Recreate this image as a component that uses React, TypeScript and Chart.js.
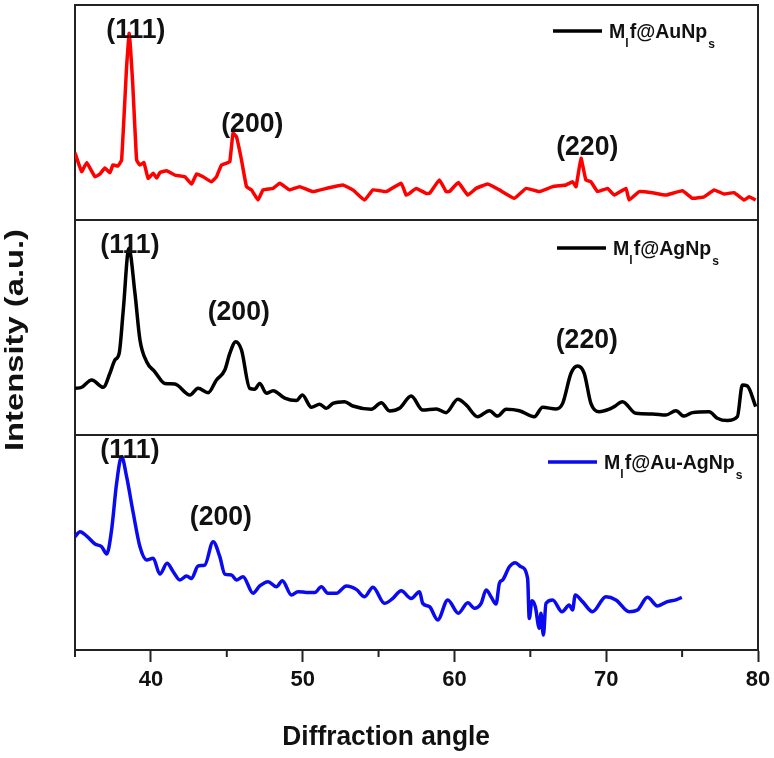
import React, { useEffect, useRef } from 'react';
import { Chart, registerables } from 'chart.js';

Chart.register(...registerables);

// ---- Data ----
// Top panel: Mlf@AuNps (red)
const auAngle = [35.0, 35.44, 35.77, 36.32, 36.64, 36.97, 37.3, 37.5, 37.83, 38.07, 38.4, 38.57, 38.8, 39.06, 39.28, 39.54, 39.82, 40.15, 40.38, 40.59, 41.03, 41.58, 42.24, 42.68, 43.01, 43.44, 43.99, 44.32, 44.65, 44.98, 45.2, 45.41, 45.64, 45.97, 46.3, 46.63, 47.06, 47.39, 48.05, 48.49, 49.14, 49.8, 50.68, 51.56, 52.65, 53.31, 54.08, 54.63, 55.51, 56.49, 56.82, 57.04, 57.48, 58.13, 58.36, 59.01, 59.45, 59.67, 60.26, 60.88, 61.43, 62.19, 62.96, 63.95, 64.72, 65.59, 66.47, 67.35, 67.78, 68.01, 68.34, 68.66, 68.99, 69.43, 70.09, 70.53, 71.3, 71.51, 72.17, 73.05, 73.93, 75.02, 75.68, 76.45, 77.11, 77.76, 78.42, 79.08, 79.41, 79.85];
const auIntensity = [31.2, 22.5, 26.7, 20.1, 21.4, 24.2, 22.0, 25.6, 25.1, 27.9, 71.3, 86.8, 63.7, 27.9, 25.6, 26.7, 19.4, 21.7, 19.5, 22.0, 22.9, 20.9, 20.1, 16.7, 21.4, 20.1, 17.8, 20.1, 25.6, 26.4, 27.1, 40.3, 38.7, 27.9, 15.5, 14.0, 9.3, 14.0, 14.7, 17.1, 14.0, 15.5, 13.2, 14.7, 16.3, 14.0, 9.3, 14.0, 13.2, 17.1, 11.6, 12.4, 14.7, 12.4, 12.4, 18.6, 13.2, 13.2, 17.4, 11.6, 14.7, 16.7, 14.0, 10.1, 14.7, 13.2, 15.5, 16.3, 17.8, 15.5, 28.7, 18.6, 17.8, 13.2, 14.7, 11.6, 14.7, 9.3, 13.2, 12.7, 11.6, 13.6, 10.1, 10.8, 14.0, 12.1, 12.7, 9.3, 10.8, 9.3];

// Middle panel: Mlf@AgNps (black)
const agAngle = [35.0, 35.44, 36.1, 36.86, 37.3, 37.63, 37.91, 38.18, 38.55, 38.95, 39.28, 39.72, 40.26, 40.92, 41.58, 42.57, 43.11, 43.77, 44.32, 44.87, 45.2, 45.59, 45.97, 46.51, 46.84, 47.17, 47.61, 48.05, 48.82, 49.59, 49.98, 50.57, 51.12, 51.56, 51.99, 52.76, 53.31, 54.52, 55.18, 55.72, 56.38, 57.15, 57.91, 58.8, 59.45, 60.22, 60.77, 61.53, 62.3, 62.85, 63.4, 64.28, 65.26, 65.81, 66.69, 67.13, 67.68, 68.11, 68.55, 68.99, 69.54, 70.2, 70.53, 71.07, 71.95, 73.05, 73.93, 74.59, 75.13, 75.68, 76.78, 77.32, 77.98, 78.64, 78.97, 79.3, 79.85];
const agIntensity = [21.7, 22.2, 25.6, 22.2, 28.7, 34.9, 38.0, 58.1, 86.8, 65.9, 44.2, 34.1, 29.4, 24.0, 23.7, 18.6, 21.7, 19.7, 25.6, 30.2, 38.0, 43.4, 39.5, 21.7, 21.3, 24.0, 19.4, 20.6, 17.1, 16.0, 18.6, 12.9, 14.3, 12.4, 14.7, 15.5, 13.5, 12.0, 15.0, 11.2, 12.4, 18.1, 11.6, 12.1, 10.4, 16.6, 14.0, 8.5, 11.3, 8.8, 12.0, 11.3, 8.5, 12.9, 12.1, 14.7, 28.7, 32.1, 28.7, 14.7, 10.8, 12.0, 13.2, 15.5, 10.1, 9.8, 9.3, 11.3, 8.8, 10.4, 10.8, 7.8, 6.7, 8.5, 23.3, 22.8, 13.2];

// Bottom panel: Mlf@Au-AgNps (blue)
const auagAngle = [35.0, 35.33, 35.77, 36.32, 36.76, 37.09, 37.41, 37.74, 38.07, 38.4, 38.84, 39.28, 39.72, 40.15, 40.59, 41.07, 41.47, 41.91, 42.35, 42.68, 43.11, 43.55, 44.1, 44.54, 44.87, 45.31, 45.64, 46.07, 46.73, 47.17, 47.72, 48.27, 48.66, 49.26, 49.69, 50.24, 50.79, 51.23, 51.66, 52.22, 52.88, 53.53, 54.08, 54.63, 55.39, 55.94, 56.49, 57.15, 57.7, 57.91, 58.36, 58.9, 59.56, 60.26, 60.88, 61.32, 61.76, 62.09, 62.41, 62.74, 62.96, 63.18, 63.62, 64.01, 64.39, 64.82, 64.93, 65.11, 65.33, 65.59, 65.7, 65.86, 66.03, 66.47, 67.09, 67.57, 67.78, 67.96, 68.44, 69.1, 69.98, 70.64, 71.51, 72.06, 72.72, 73.38, 74.03, 74.59, 74.98];
const auagIntensity = [52.7, 55.0, 53.0, 49.3, 48.0, 44.7, 55.8, 77.5, 89.9, 80.6, 63.6, 48.0, 41.9, 42.7, 35.3, 40.3, 36.4, 32.6, 34.4, 33.3, 39.1, 39.5, 50.4, 43.4, 35.3, 34.9, 32.6, 34.1, 26.4, 29.8, 31.8, 29.4, 32.2, 25.6, 27.1, 26.8, 26.7, 29.4, 26.4, 26.4, 29.8, 28.2, 24.8, 29.2, 21.7, 24.0, 27.6, 24.0, 27.1, 21.7, 20.1, 14.0, 23.3, 17.1, 22.0, 19.4, 21.7, 27.9, 24.8, 21.4, 31.0, 32.6, 38.7, 40.6, 38.7, 33.3, 14.7, 22.9, 20.1, 10.1, 17.1, 7.0, 21.7, 23.3, 17.8, 20.9, 18.6, 25.6, 22.5, 17.8, 24.8, 23.3, 17.8, 18.6, 24.5, 20.5, 22.5, 23.3, 24.5];

// Series names (legend), panel axes and colours
const seriesNames = ['Au', 'Ag', 'Au-Ag'];
const seriesAxes = ['yTop', 'yMid', 'yBot'];
const seriesColors = ['#ff0000', '#000000', '#0a0af0'];
const legendLineColors = ['#000000', '#000000', '#0a0af0'];

// Peak annotations (Miller indices)
const peakText = ['(111)', '(200)', '(220)', '(111)', '(200)', '(220)', '(111)', '(200)'];
const peakAxis = ['yTop', 'yTop', 'yTop', 'yMid', 'yMid', 'yMid', 'yBot', 'yBot'];
const peakAngle = [39.01, 46.68, 68.75, 38.62, 45.79, 68.72, 38.62, 44.61];
const peakLevel = [88.4, 44.7, 34.0, 88.4, 57.2, 44.2, 93.0, 61.9];

const xTitle = 'Diffraction angle';
const yTitle = 'Intensity (a.u.)';

const FONT = "'Liberation Sans', Arial, Helvetica, sans-serif";

function toPoints(xs: number[], ys: number[]) {
  return xs.map((x, i) => ({ x, y: ys[i] }));
}

// draw text with a horizontal squeeze; returns advance width
function squeezedText(ctx: any, text: string, x: number, y: number, sx: number) {
  ctx.save();
  ctx.translate(x, y);
  ctx.scale(sx, 1);
  ctx.fillText(text, 0, 0);
  ctx.restore();
  return ctx.measureText(text).width * sx;
}

const decorPlugin = {
  id: 'decor',
  beforeDatasetsDraw(chart: any) {
    const { ctx, chartArea } = chart;
    ctx.save();
    ctx.strokeStyle = '#222';
    ctx.lineWidth = 2;
    seriesAxes.forEach((id) => {
      const s = chart.scales[id];
      ctx.strokeRect(chartArea.left, s.top, chartArea.right - chartArea.left, s.bottom - s.top);
    });
    // minor tick marks on the x axis
    const xs = chart.scales.x;
    xs.ticks.forEach((t: any) => {
      if (t.value % 10 !== 0) {
        const px = xs.getPixelForValue(t.value);
        ctx.beginPath();
        ctx.moveTo(px, chartArea.bottom);
        ctx.lineTo(px, chartArea.bottom + 7);
        ctx.stroke();
      }
    });
    ctx.restore();
  },
  afterDatasetsDraw(chart: any) {
    const { ctx, chartArea } = chart;
    const xs = chart.scales.x;
    ctx.save();
    // peak labels
    ctx.fillStyle = '#111';
    ctx.font = `bold 28px ${FONT}`;
    ctx.textAlign = 'center';
    ctx.textBaseline = 'middle';
    peakText.forEach((t, i) => {
      const ys = chart.scales[peakAxis[i]];
      ctx.save();
      ctx.translate(xs.getPixelForValue(peakAngle[i]), ys.getPixelForValue(peakLevel[i]));
      ctx.scale(0.95, 1);
      ctx.fillText(t, 0, 0);
      ctx.restore();
    });
    // legends
    const legendOffsetX = [205, 201, 210];
    const legendOffsetY = [26, 28, 27];
    seriesAxes.forEach((id, i) => {
      const s = chart.scales[id];
      const x0 = chartArea.right - legendOffsetX[i];
      const y0 = s.top + legendOffsetY[i];
      ctx.strokeStyle = legendLineColors[i];
      ctx.lineWidth = 3.5;
      ctx.beginPath();
      ctx.moveTo(x0, y0);
      ctx.lineTo(x0 + 49, y0);
      ctx.stroke();
      ctx.fillStyle = '#111';
      ctx.textAlign = 'left';
      ctx.textBaseline = 'alphabetic';
      const sx = 0.93;
      let x = x0 + 56;
      const base = y0 + 7;
      ctx.font = `bold 21px ${FONT}`;
      x += squeezedText(ctx, 'M', x, base, sx);
      ctx.font = `bold 13px ${FONT}`;
      x += squeezedText(ctx, 'l', x, base + 9, sx) + 1;
      ctx.font = `bold 21px ${FONT}`;
      x += squeezedText(ctx, 'f@' + seriesNames[i] + 'Np', x, base, sx) + 1;
      ctx.font = `bold 13px ${FONT}`;
      squeezedText(ctx, 's', x, base + 10, sx);
    });
    // x-axis title
    ctx.font = `bold 28px ${FONT}`;
    ctx.textAlign = 'center';
    ctx.textBaseline = 'alphabetic';
    squeezedText(ctx, xTitle, xs.getPixelForValue(55.5), 745, 0.94);
    // y-axis title (rotated)
    ctx.font = `bold 25px ${FONT}`;
    ctx.textAlign = 'center';
    ctx.textBaseline = 'middle';
    ctx.translate(16, 340);
    ctx.rotate(-Math.PI / 2);
    ctx.scale(1.31, 1);
    ctx.fillText(yTitle, 0, 0);
    ctx.restore();
  },
};

export default function App() {
  const ref = useRef<HTMLCanvasElement>(null);
  useEffect(() => {
    if (!ref.current) return;
    const yScale = (weight: number, stackWeight: number) => ({
      type: 'linear',
      min: 0,
      max: 100,
      display: false,
      position: 'left',
      stack: 'panels',
      stackWeight,
      weight,
    });
    const chart = new Chart(ref.current, {
      type: 'line',
      data: {
        datasets: [
          { label: 'Au', data: toPoints(auAngle, auIntensity), yAxisID: 'yTop' },
          { label: 'Ag', data: toPoints(agAngle, agIntensity), yAxisID: 'yMid' },
          { label: 'Au-Ag', data: toPoints(auagAngle, auagIntensity), yAxisID: 'yBot' },
        ].map((d, i) => ({
          ...d,
          borderColor: seriesColors[i],
          backgroundColor: seriesColors[i],
          borderWidth: 3.5,
          pointRadius: 0,
          fill: false,
          cubicInterpolationMode: i === 0 ? 'default' : 'monotone',
          tension: i === 0 ? 0.1 : 0.4,
        })),
      },
      options: {
        animation: false,
        responsive: false,
        maintainAspectRatio: false,
        devicePixelRatio: 1,
        layout: { padding: { left: 75, right: 16, top: 5, bottom: 0 } },
        plugins: { legend: { display: false }, tooltip: { enabled: false } },
        scales: {
          x: {
            type: 'linear',
            min: 35,
            max: 80,
            position: 'bottom',
            ticks: {
              stepSize: 5,
              autoSkip: false,
              maxRotation: 0,
              padding: 5,
              color: '#111',
              font: { family: FONT, size: 22, weight: 'bold' },
              callback: (v: any) => (Number(v) % 10 === 0 ? String(v) : ''),
            },
            grid: {
              display: true,
              drawOnChartArea: false,
              drawTicks: true,
              tickLength: 12,
              tickWidth: 2,
              tickColor: (c: any) => (c.tick && c.tick.value % 10 === 0 ? '#222' : 'rgba(0,0,0,0)'),
            },
            border: { display: true, color: '#222', width: 2 },
            title: { display: false },
            afterFit: (s: any) => {
              s.height = 108;
              s.paddingLeft = 0;
              s.paddingRight = 0;
            },
          },
          yBot: yScale(1, 215),
          yMid: yScale(2, 215),
          yTop: yScale(3, 215),
        },
      } as any,
      plugins: [decorPlugin],
    } as any);
    return () => chart.destroy();
  }, []);
  return (
    <div style={{ position: 'fixed', left: 0, top: 0, width: 774, height: 758, background: '#fff' }}>
      <canvas ref={ref} width={774} height={758} style={{ display: 'block' }} />
    </div>
  );
}
